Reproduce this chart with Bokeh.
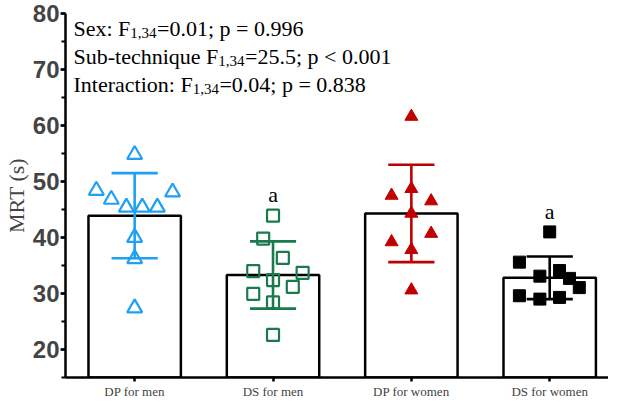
from bokeh.plotting import figure
from bokeh.models import Range1d, FixedTicker, SingleIntervalTicker, Label
from bokeh.embed import file_html
from bokeh.resources import INLINE
from bokeh.core.properties import value

# ---------------- data ----------------
categories = ["DP for men", "DS for men", "DP for women", "DS for women"]
bar_means = [43.9, 33.3, 44.3, 32.8]
bar_sds = [7.6, 6.0, 8.7, 3.8]

dp_men = [54.8, 48.4, 46.8, 45.4, 45.4, 45.4, 48.1, 40.0, 36.2, 27.4]
dp_men_jitter = [0, -0.277, -0.169, -0.06, 0.055, 0.164, 0.274, 0, 0, 0]
ds_men = [43.9, 39.8, 36.35, 34.0, 33.7, 32.4, 31.2, 29.95, 28.4, 22.6]
ds_men_jitter = [0, -0.071, 0.071, -0.143, 0.214, 0, 0.143, -0.143, 0, 0]
dp_women = [61.6, 48.7, 47.5, 46.5, 44.3, 40.7, 39.2, 37.8, 30.6]
dp_women_jitter = [0, 0, -0.143, 0.143, 0, 0.143, -0.143, 0, 0]
ds_women = [41.0, 35.6, 34.1, 33.1, 32.7, 31.05, 29.6, 29.0, 29.3]
ds_women_jitter = [0, -0.219, 0.071, -0.071, 0.143, 0.214, -0.219, -0.071, 0.071]

sig_letters = ["", "a", "", "a"]
stats_lines = [
    ("Sex: F", "1,34", "=0.01; p = 0.996"),
    ("Sub-technique F", "1,34", "=25.5; p < 0.001"),
    ("Interaction: F", "1,34", "=0.04; p = 0.838"),
]
y_label = "MRT (s)"

# ---------------- styles ----------------
colors = ["#1FA0F2", "#1A7A4C", "#C00000", "#000000"]
markers = ["triangle", "square", "triangle", "square"]
filled = [False, False, True, True]
msizes = [15, 12, 13, 12]
serif = "Liberation Serif"
sans = "Liberation Sans"

# Times metrics (1/1000 em) for laying out the subscripted text
TIMES = {" ": 250, ",": 250, ".": 250, "-": 333, ":": 278, ";": 278, "=": 564, "<": 564,
         "F": 556, "S": 556, "I": 333, "a": 444, "b": 500, "c": 444, "e": 444, "h": 500,
         "i": 278, "n": 500, "o": 500, "p": 500, "q": 500, "r": 333, "t": 278, "u": 500,
         "x": 500}


def tw(s, size):
    return sum(TIMES.get(ch, 500) for ch in s) / 1000.0 * size


p = figure(width=608, height=401, output_backend="svg", toolbar_location=None,
           x_range=Range1d(0, 3.925), y_range=Range1d(15, 80),
           min_border_left=59, min_border_top=13, min_border_right=0, min_border_bottom=0)
p.outline_line_color = None
p.xgrid.grid_line_color = None
p.ygrid.grid_line_color = None
p.background_fill_color = "white"
p.border_fill_color = "white"

centers = [i + 0.5 for i in range(len(categories))]

# bars
p.vbar(x=centers, top=bar_means, bottom=0, width=0.668, fill_color="white",
       line_color="black", line_width=2.5)

# error bars (mean +/- SD)
cap = 0.167
for c, m, s, col in zip(centers, bar_means, bar_sds, colors):
    p.segment(x0=[c], y0=[m - s], x1=[c], y1=[m + s], line_color=col, line_width=2.6)
    p.segment(x0=[c - cap, c - cap], y0=[m - s, m + s], x1=[c + cap, c + cap],
              y1=[m - s, m + s], line_color=col, line_width=2.6)

# individual points
groups = [(dp_men, dp_men_jitter), (ds_men, ds_men_jitter),
          (dp_women, dp_women_jitter), (ds_women, ds_women_jitter)]
for i, (vals, jit) in enumerate(groups):
    xs = [centers[i] + j for j in jit]
    if filled[i]:
        p.scatter(xs, vals, marker=markers[i], size=msizes[i], fill_color=colors[i],
                  line_color=colors[i], line_width=1)
    else:
        p.scatter(xs, vals, marker=markers[i], size=msizes[i], fill_color=None,
                  line_color=colors[i], line_width=2.2)

# significance letters
for i, letter in enumerate(sig_letters):
    if letter:
        vals = groups[i][0]
        p.text(x=[centers[i]], y=[max(vals) + 3.7], text=[letter],
               text_font=value(serif), text_font_size="22px", text_align="center",
               text_baseline="alphabetic", text_color="black")

# statistics text with subscripts
main_size = 22
sub_size = 15
line_y0 = 77.4
line_step = 5.0
sub_drop = 0.85
x0 = 8
for k, (a, sub, b) in enumerate(stats_lines):
    yy = line_y0 - k * line_step
    xa = x0
    xs_ = xa + tw(a, main_size)
    xb = xs_ + tw(sub, sub_size) + 0.5
    for txt, xx, y_, fs in [(a, xa, yy, main_size), (sub, xs_, yy - sub_drop, sub_size),
                            (b, xb, yy, main_size)]:
        p.add_layout(Label(x=xx, y=y_, x_units="screen", y_units="data", text=txt,
                           text_font=serif, text_font_size=f"{fs}px",
                           text_baseline="alphabetic", text_align="left",
                           text_color="black"))

# y axis
yax = p.yaxis[0]
yax.ticker = SingleIntervalTicker(interval=10, num_minor_ticks=2)
yax.axis_label = y_label
yax.axis_label_text_font = serif
yax.axis_label_text_font_size = "22px"
yax.axis_label_text_font_style = "normal"
yax.axis_label_standoff = 1
yax.major_label_text_font = sans
yax.major_label_text_font_style = "bold"
yax.major_label_text_font_size = "24px"
yax.major_label_standoff = 1
yax.axis_line_width = 2.5
yax.major_tick_line_width = 2.5
yax.minor_tick_line_width = 2
yax.major_tick_out = 5
yax.major_tick_in = 0
yax.minor_tick_out = 4
yax.minor_tick_in = 0

# x axis
xax = p.xaxis[0]
xax.ticker = FixedTicker(ticks=centers)
xax.major_label_overrides = {c: name for c, name in zip(centers, categories)}
xax.major_label_text_font = serif
xax.major_label_text_font_size = "13px"
xax.major_label_standoff = 2
xax.axis_line_width = 2.5
xax.major_tick_line_width = 2.5
xax.major_tick_out = 4
xax.major_tick_in = 0
xax.minor_tick_line_color = None

open("out.html", "w").write(file_html(p, INLINE))
